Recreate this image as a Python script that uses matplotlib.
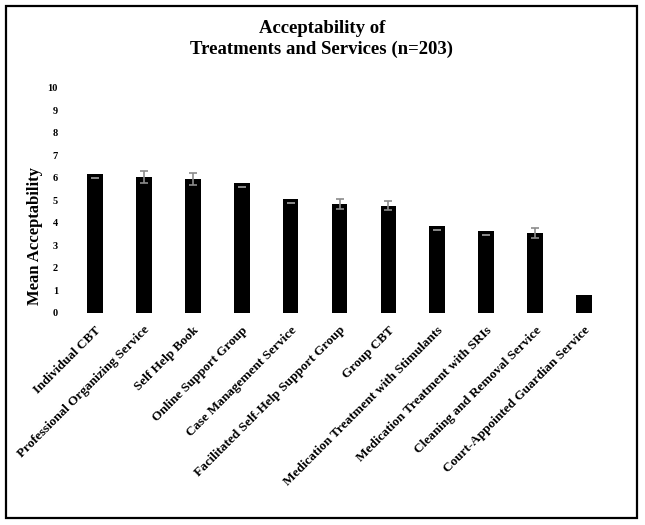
import matplotlib
matplotlib.use("Agg")
import matplotlib.pyplot as plt
from matplotlib.patches import Rectangle

categories = [
    "Individual CBT",
    "Professional Organizing Service",
    "Self Help Book",
    "Online Support Group",
    "Case Management Service",
    "Facilitated Self-Help Support Group",
    "Group CBT",
    "Medication Treatment with Stimulants",
    "Medication Treatment with SRIs",
    "Cleaning and Removal Service",
    "Court-Appointed Guardian Service",
]
means = [6.18, 6.04, 5.96, 5.78, 5.07, 4.84, 4.76, 3.87, 3.64, 3.56, 0.80]
# symmetric error (visible above the bar) or only a lower cap (hidden line inside bar)
err_sym = [0.0, 0.27, 0.25, 0.0, 0.0, 0.22, 0.20, 0.0, 0.0, 0.23, 0.0]
err_low = [0.18, 0.0, 0.0, 0.18, 0.18, 0.0, 0.0, 0.18, 0.18, 0.0, 0.0]
yticks = [0, 1, 2, 3, 4, 5, 6, 7, 8, 9, 10]

plt.rcParams['font.family'] = ['Liberation Serif', 'DejaVu Serif']
plt.rcParams['font.weight'] = 'bold'

W, H = 645, 525
fig = plt.figure(figsize=(W / 100, H / 100), dpi=100)
ax = fig.add_axes([70.5 / W, 1 - 313 / H, 538 / W, 225 / H])

x = list(range(len(categories)))
ax.bar(x, means, width=0.32, color='black', zorder=2)

sx = [i for i in x if err_sym[i] > 0]
ax.errorbar(sx, [means[i] for i in sx], yerr=[err_sym[i] for i in sx], fmt='none',
            ecolor='#8c8c8c', elinewidth=1.2, capsize=2.6, capthick=1.2, zorder=3)
lx = [i for i in x if err_low[i] > 0]
ax.errorbar(lx, [means[i] - err_low[i] for i in lx], yerr=[0 for _ in lx], fmt='none',
            ecolor='#8c8c8c', elinewidth=1.2, capsize=2.8, capthick=1.2, zorder=3)

ax.set_xlim(-0.5, len(categories) - 0.5)
ax.set_ylim(0, 10)
ax.set_yticks(yticks)
ax.set_yticklabels([str(v) for v in yticks], fontsize=7.5, fontweight='bold')
ax.set_xticks(x)
ax.set_xticklabels(categories, rotation=45, ha='right', rotation_mode='anchor',
                   fontsize=9.5, fontweight='bold')
ax.tick_params(axis='both', length=0)
ax.tick_params(axis='y', pad=9)
ax.tick_params(axis='x', pad=8)
for s in ax.spines.values():
    s.set_visible(False)

fig.text(35 / W, 1 - 236 / H, "Mean Acceptability", rotation=90, ha='center', va='center',
         fontsize=12, fontweight='bold')
fig.text(322 / W, 1 - 39 / H, "Acceptability of\nTreatments and Services (n=203)",
         ha='center', va='center', fontsize=13.5, fontweight='bold', linespacing=1.25)

fig.patches.append(Rectangle((6 / W, 1 - 518 / H), 631 / W, 512 / H, transform=fig.transFigure,
                             fill=False, edgecolor='black', linewidth=1.6))

fig.savefig("out.png", dpi=100)
